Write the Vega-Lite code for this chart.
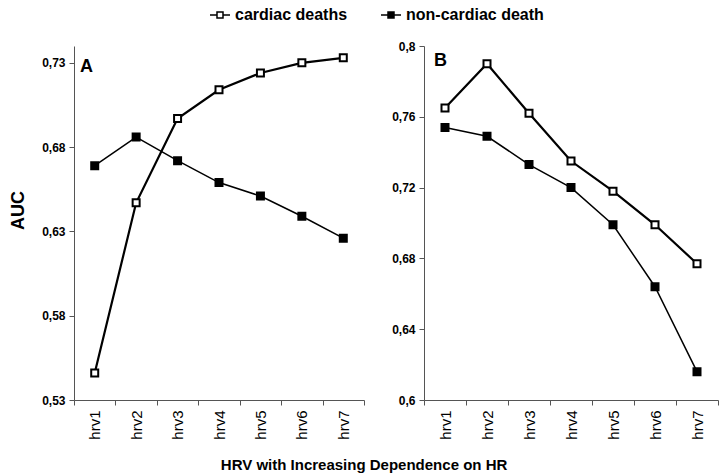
{
  "$schema": "https://vega.github.io/schema/vega-lite/v6.json",
  "background": "white",
  "padding": {"left": 9, "top": 4, "right": 5, "bottom": 5},
  "data": {"values": [
    {"panel": "A", "hrv": "hrv1", "series": "cardiac deaths", "auc": 0.546},
    {"panel": "A", "hrv": "hrv2", "series": "cardiac deaths", "auc": 0.647},
    {"panel": "A", "hrv": "hrv3", "series": "cardiac deaths", "auc": 0.697},
    {"panel": "A", "hrv": "hrv4", "series": "cardiac deaths", "auc": 0.714},
    {"panel": "A", "hrv": "hrv5", "series": "cardiac deaths", "auc": 0.724},
    {"panel": "A", "hrv": "hrv6", "series": "cardiac deaths", "auc": 0.730},
    {"panel": "A", "hrv": "hrv7", "series": "cardiac deaths", "auc": 0.733},
    {"panel": "A", "hrv": "hrv1", "series": "non-cardiac death", "auc": 0.669},
    {"panel": "A", "hrv": "hrv2", "series": "non-cardiac death", "auc": 0.686},
    {"panel": "A", "hrv": "hrv3", "series": "non-cardiac death", "auc": 0.672},
    {"panel": "A", "hrv": "hrv4", "series": "non-cardiac death", "auc": 0.659},
    {"panel": "A", "hrv": "hrv5", "series": "non-cardiac death", "auc": 0.651},
    {"panel": "A", "hrv": "hrv6", "series": "non-cardiac death", "auc": 0.639},
    {"panel": "A", "hrv": "hrv7", "series": "non-cardiac death", "auc": 0.626},
    {"panel": "B", "hrv": "hrv1", "series": "cardiac deaths", "auc": 0.765},
    {"panel": "B", "hrv": "hrv2", "series": "cardiac deaths", "auc": 0.790},
    {"panel": "B", "hrv": "hrv3", "series": "cardiac deaths", "auc": 0.762},
    {"panel": "B", "hrv": "hrv4", "series": "cardiac deaths", "auc": 0.735},
    {"panel": "B", "hrv": "hrv5", "series": "cardiac deaths", "auc": 0.718},
    {"panel": "B", "hrv": "hrv6", "series": "cardiac deaths", "auc": 0.699},
    {"panel": "B", "hrv": "hrv7", "series": "cardiac deaths", "auc": 0.677},
    {"panel": "B", "hrv": "hrv1", "series": "non-cardiac death", "auc": 0.754},
    {"panel": "B", "hrv": "hrv2", "series": "non-cardiac death", "auc": 0.749},
    {"panel": "B", "hrv": "hrv3", "series": "non-cardiac death", "auc": 0.733},
    {"panel": "B", "hrv": "hrv4", "series": "non-cardiac death", "auc": 0.720},
    {"panel": "B", "hrv": "hrv5", "series": "non-cardiac death", "auc": 0.699},
    {"panel": "B", "hrv": "hrv6", "series": "non-cardiac death", "auc": 0.664},
    {"panel": "B", "hrv": "hrv7", "series": "non-cardiac death", "auc": 0.616}
  ]},
  "title": {"text": "HRV with Increasing Dependence on HR", "orient": "bottom", "anchor": "middle", "fontSize": 15, "fontWeight": "bold", "font": "Liberation Sans", "color": "black", "offset": 19},
  "spacing": 26,
  "hconcat": [
    {
      "width": 290,
      "height": 354,
      "title": {"text": "A", "anchor": "start", "frame": "group", "orient": "top", "offset": -30, "dx": 6, "fontSize": 18, "fontWeight": "bold", "font": "Liberation Sans", "color": "black"},
      "transform": [{"filter": "datum.panel == 'A'"}],
      "layer": [
        {
          "mark": {"type": "line", "color": "black"},
          "encoding": {
            "x": {"field": "hrv", "type": "nominal", "scale": {"paddingInner": 0, "paddingOuter": 0}, "axis": {"title": null, "labelAngle": -90, "tickBand": "extent"}},
            "y": {"field": "auc", "type": "quantitative", "scale": {"domain": [0.53, 0.74], "zero": false, "nice": false}, "axis": {"title": "AUC", "values": [0.53, 0.58, 0.63, 0.68, 0.73], "labelExpr": "replace(format(datum.value, '~g'), '.', ',')", "titleFontSize": 18, "titleY": 164, "titlePadding": 14}},
            "detail": {"field": "series"},
            "strokeWidth": {"condition": {"test": "datum.series == 'cardiac deaths'", "value": 2.2}, "value": 1.5}
          }
        },
        {
          "mark": {"type": "point", "shape": "square", "filled": true, "size": 49, "stroke": "black", "strokeWidth": 2, "opacity": 1},
          "encoding": {
            "x": {"field": "hrv", "type": "nominal"},
            "y": {"field": "auc", "type": "quantitative"},
            "fill": {"field": "series", "type": "nominal", "scale": {"domain": ["cardiac deaths", "non-cardiac death"], "range": ["white", "black"]}, "legend": {"title": null, "orient": "none", "direction": "horizontal", "legendX": 135, "legendY": -42, "symbolType": "M-1,0H-0.3M0.3,0H1M-0.3,-0.3H0.3V0.3H-0.3Z", "symbolSize": 400}}
          }
        }
      ]
    },
    {
      "width": 294,
      "height": 354,
      "title": {"text": "B", "anchor": "start", "frame": "group", "orient": "top", "offset": -30, "dx": 10, "fontSize": 18, "fontWeight": "bold", "font": "Liberation Sans", "color": "black"},
      "transform": [{"filter": "datum.panel == 'B'"}],
      "layer": [
        {
          "mark": {"type": "line", "color": "black"},
          "encoding": {
            "x": {"field": "hrv", "type": "nominal", "scale": {"paddingInner": 0, "paddingOuter": 0}, "axis": {"title": null, "labelAngle": -90, "tickBand": "extent"}},
            "y": {"field": "auc", "type": "quantitative", "scale": {"domain": [0.6, 0.8], "zero": false, "nice": false}, "axis": {"title": null, "values": [0.6, 0.64, 0.68, 0.72, 0.76, 0.8], "labelExpr": "replace(format(datum.value, '~g'), '.', ',')"}},
            "detail": {"field": "series"},
            "strokeWidth": {"condition": {"test": "datum.series == 'cardiac deaths'", "value": 2.2}, "value": 1.5}
          }
        },
        {
          "mark": {"type": "point", "shape": "square", "filled": true, "size": 49, "stroke": "black", "strokeWidth": 2, "opacity": 1},
          "encoding": {
            "x": {"field": "hrv", "type": "nominal"},
            "y": {"field": "auc", "type": "quantitative"},
            "fill": {"field": "series", "type": "nominal", "scale": {"domain": ["cardiac deaths", "non-cardiac death"], "range": ["white", "black"]}}
          }
        }
      ]
    }
  ],
  "resolve": {"scale": {"y": "independent", "x": "independent"}},
  "config": {
    "font": "Liberation Sans",
    "view": {"stroke": null},
    "axis": {"grid": false, "domainColor": "#555555", "tickColor": "#555555", "tickSize": 5, "labelColor": "black", "titleColor": "black", "titleFont": "Liberation Sans", "labelFont": "Liberation Sans", "titleFontWeight": "bold"},
    "axisY": {"labelFontSize": 12, "labelFontWeight": "bold", "labelPadding": 4},
    "axisX": {"labelFontSize": 15, "labelFontWeight": "normal", "labelPadding": 5},
    "legend": {"labelFontSize": 16, "labelFontWeight": "bold", "labelFont": "Liberation Sans", "labelColor": "black", "symbolStrokeColor": "black", "symbolStrokeWidth": 1.5, "columnPadding": 30, "labelOffset": 4}
  }
}
